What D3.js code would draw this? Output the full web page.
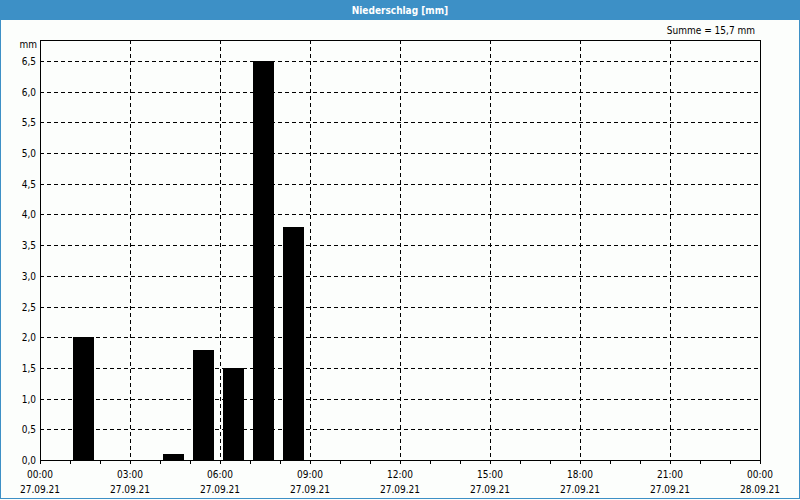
<!DOCTYPE html>
<html><head><meta charset="utf-8">
<script src="https://cdn.jsdelivr.net/npm/d3@7"></script>
<style>
html,body{margin:0;padding:0;background:#fcfefc;}
svg{display:block;}
text{font-family:"DejaVu Sans Condensed","DejaVu Sans",sans-serif;font-size:10px;fill:#000;}
</style></head>
<body>
<script>
const title = "Niederschlag [mm]";
const summeLabel = "Summe = 15,7 mm";
const unitLabel = "mm";
const hours = [1, 4, 5, 6, 7, 8];
const values = [2.0, 0.1, 1.8, 1.5, 6.5, 3.8];
const yTicks = [0,0.5,1,1.5,2,2.5,3,3.5,4,4.5,5,5.5,6,6.5];
const xTickHours = [0,3,6,9,12,15,18,21,24];
const xTimeLabels = ["00:00","03:00","06:00","09:00","12:00","15:00","18:00","21:00","00:00"];
const xDateLabels = ["27.09.21","27.09.21","27.09.21","27.09.21","27.09.21","27.09.21","27.09.21","27.09.21","28.09.21"];

const W=800,H=500;
const L=40,R=760,T=40,B=460;
const svg=d3.select("body").append("svg").attr("width",W).attr("height",H);
svg.append("rect").attr("width",W).attr("height",H).attr("fill","#fcfefc");
// frame
svg.append("rect").attr("x",0).attr("y",0).attr("width",W).attr("height",20).attr("fill","#3d90c6");
svg.append("rect").attr("x",0.5).attr("y",0.5).attr("width",W-1).attr("height",H-2).attr("fill","none").attr("stroke","#3d90c6").attr("stroke-width",1);
svg.append("text").attr("x",W/2).attr("y",14).attr("text-anchor","middle").style("font-weight","bold").style("fill","#fff").text(title);

const x=d3.scaleLinear().domain([0,24]).range([L,R]);
const yMax = 6.5*(B-T)/(B-61);
const y=d3.scaleLinear().domain([0,yMax]).range([B,T]);

const g=svg.append("g");
// gridlines
g.selectAll(".hg").data(yTicks.filter(d=>d>0)).enter().append("line")
 .attr("x1",L).attr("x2",R).attr("y1",d=>Math.round(y(d))+0.5).attr("y2",d=>Math.round(y(d))+0.5)
 .attr("stroke","#000").attr("stroke-dasharray","4,3");
g.selectAll(".vg").data(xTickHours.filter(d=>d>0&&d<24)).enter().append("line")
 .attr("y1",T).attr("y2",B).attr("x1",d=>Math.round(x(d))+0.5).attr("x2",d=>Math.round(x(d))+0.5)
 .attr("stroke","#000").attr("stroke-dasharray","4,3");

// bars
const bw = x(1)-x(0);
g.selectAll(".bar").data(hours).enter().append("rect")
 .attr("x",(d)=>x(d)+3).attr("width",bw-9)
 .attr("y",(d,i)=>Math.round(y(values[i]))).attr("height",(d,i)=>B-Math.round(y(values[i])))
 .attr("fill","#000");

// border
svg.append("rect").attr("x",L+0.5).attr("y",T+0.5).attr("width",R-L).attr("height",B-T).attr("fill","none").attr("stroke","#000");

// y axis labels
svg.selectAll(".yl").data(yTicks).enter().append("text")
 .attr("x",36).attr("y",d=>Math.round(y(d))+4).attr("text-anchor","end")
 .text(d=>d3.format(".1f")(d).replace(".",","));
svg.append("text").attr("x",37).attr("y",48).attr("text-anchor","end").text(unitLabel);
svg.append("text").attr("x",755).attr("y",34).attr("text-anchor","end").text(summeLabel);

// x minor ticks
svg.selectAll(".xt").data(d3.range(0,25)).enter().append("line")
 .attr("x1",d=>Math.round(x(d))+0.5).attr("x2",d=>Math.round(x(d))+0.5)
 .attr("y1",B).attr("y2",B+4).attr("stroke","#000");
svg.selectAll(".xl").data(xTickHours).enter().append("text")
 .attr("x",d=>x(d)).attr("y",478).attr("text-anchor","middle").text((d,i)=>xTimeLabels[i]);
svg.selectAll(".xd").data(xTickHours).enter().append("text")
 .attr("x",d=>x(d)).attr("y",493).attr("text-anchor","middle").text((d,i)=>xDateLabels[i]);
</script>
</body></html>
